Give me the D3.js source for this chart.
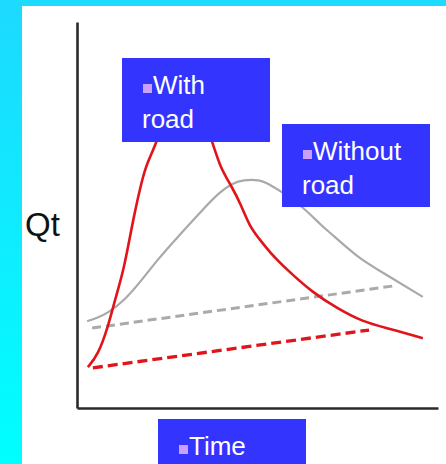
<!DOCTYPE html>
<html><head><meta charset="utf-8">
<script src="https://cdn.jsdelivr.net/npm/d3@7"></script>
<style>html,body{margin:0;padding:0;background:#fff;}svg{display:block;}</style>
</head><body>
<svg id="chart" width="446" height="464"></svg>
<script>
// Data (time units 0-100, Qt units 0-100)
const withRoadT = [3.0,5.8,8.6,10.5,13.0,15.5,18.0,19.4,22.2,25.8,29.1,32.7,35.5,37.4,39.6,42.9,45.2,47.9,50.1,53.5,58.2,65.4,72.0,79.2,85.9,95.8];
const withRoadQ = [10.6,13.7,21.0,28.0,35.8,48.7,59.1,63.5,68.9,79.8,84.5,79.8,73.3,69.4,62.4,57.3,53.1,46.9,44.3,40.2,35.8,29.8,25.9,22.3,20.7,18.1];
const withoutRoadT = [2.8,5.0,8.6,13.3,18.0,22.2,27.1,35.5,39.6,43.2,46.0,50.7,52.6,56.8,62.6,68.1,70.9,77.6,84.8,95.8];
const withoutRoadQ = [22.5,23.1,24.6,28.0,33.2,38.3,43.5,52.1,56.0,58.3,59.1,59.1,58.3,56.0,52.1,46.9,44.8,39.1,35.0,28.8];
const baseWithoutT = [4.2,87.5];
const baseWithoutQ = [20.7,31.6];
const baseWithT = [4.4,80.9];
const baseWithQ = [10.4,20.2];
const labels = [
  {lines:["With","road"]},
  {lines:["Without","road"]},
  {lines:["Time"]}
];
const yLabel = "Qt";

const svg = d3.select("#chart");
const W = 446, H = 464;
const x = d3.scaleLinear().domain([0,100]).range([77,438]);
const y = d3.scaleLinear().domain([0,100]).range([408,22]);

// background
const grad = svg.append("defs").append("linearGradient").attr("id","cy").attr("x1",0).attr("y1",0).attr("x2",0).attr("y2",1);
grad.append("stop").attr("offset","0%").attr("stop-color","#1dd9ff");
grad.append("stop").attr("offset","100%").attr("stop-color","#00ffff");
svg.append("rect").attr("width",W).attr("height",H).attr("fill","#fff");
svg.append("rect").attr("x",0).attr("y",0).attr("width",22).attr("height",H).attr("fill","url(#cy)");
svg.append("rect").attr("x",0).attr("y",0).attr("width",W).attr("height",6).attr("fill","#1ddbff");

const line = d3.line().x(d=>x(d[0])).y(d=>y(d[1])).curve(d3.curveBasis);
const straight = d3.line().x(d=>x(d[0])).y(d=>y(d[1]));
const zip = (a,b)=>a.map((v,i)=>[v,b[i]]);

// gray solid
svg.append("path").attr("d",line(zip(withoutRoadT,withoutRoadQ))).attr("fill","none")
  .attr("stroke","#a9a9a9").attr("stroke-width",2.2);
// gray dashed
svg.append("path").attr("d",straight(zip(baseWithoutT,baseWithoutQ))).attr("fill","none")
  .attr("stroke","#aaaaaa").attr("stroke-width",3).attr("stroke-dasharray","9,5");
// red dashed
svg.append("path").attr("d",straight(zip(baseWithT,baseWithQ))).attr("fill","none")
  .attr("stroke","#e0141a").attr("stroke-width",3.3).attr("stroke-dasharray","10,5");
// red solid
svg.append("path").attr("d",line(zip(withRoadT,withRoadQ))).attr("fill","none")
  .attr("stroke","#e0141a").attr("stroke-width",2.6);

// axes
const yAxis = d3.axisLeft(y).ticks(0).tickSize(0).tickSizeOuter(0);
const xAxis = d3.axisBottom(x).ticks(0).tickSize(0).tickSizeOuter(0);
const gy = svg.append("g").attr("transform","translate(77,0)").call(yAxis);
const gx = svg.append("g").attr("transform","translate(0,408)").call(xAxis);
[gy,gx].forEach(g=>g.select(".domain").attr("stroke","#2a2a2a").attr("stroke-width",2.6));

// Qt label
svg.append("text").attr("x",25).attr("y",236).text(yLabel)
  .attr("font-family","'Liberation Sans',Arial,sans-serif").attr("font-size",33).attr("fill","#111");

// label boxes
const boxes = [
  {x:122,y:58,w:148,h:84},
  {x:282,y:124,w:148,h:83},
  {x:158,y:419,w:148,h:60}
];
labels.forEach((lab,i)=>{
  const b = boxes[i];
  const g = svg.append("g");
  g.append("rect").attr("x",b.x).attr("y",b.y).attr("width",b.w).attr("height",b.h).attr("fill","#3434ff");
  g.append("rect").attr("x",b.x+21).attr("y",b.y+26).attr("width",9).attr("height",9).attr("fill","#c9a0fb");
  lab.lines.forEach((t,j)=>{
    g.append("text").attr("x", j===0 ? b.x+31 : b.x+20).attr("y", b.y+36+j*34).text(t)
      .attr("font-family","'Liberation Sans',Arial,sans-serif").attr("font-size",26).attr("fill","#fff");
  });
});
</script>
</body></html>
